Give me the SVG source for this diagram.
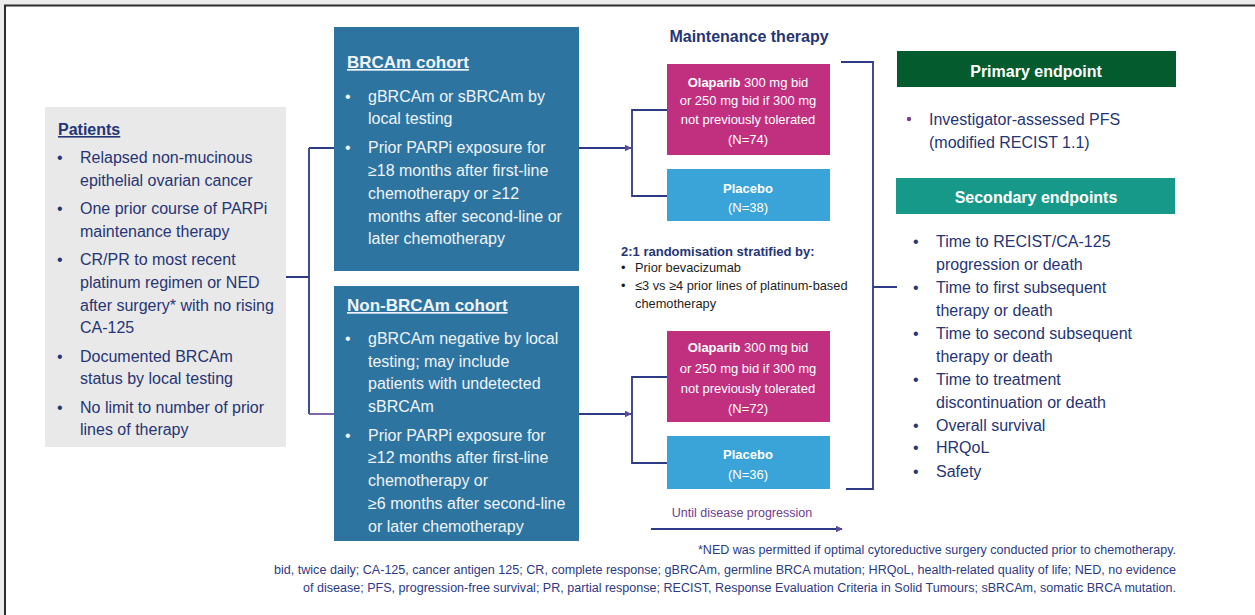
<svg xmlns="http://www.w3.org/2000/svg" width="1255" height="615" viewBox="0 0 1255 615">
  <defs>
    <style>
      text { font-family: "Liberation Sans", Arial, sans-serif; }
      .navy { fill: #263574; }
      .body { font-size: 16px; }
      .hdr { font-size: 16px; font-weight: bold; }
      .ul { text-decoration: underline; }
      .light { fill: #eef4f9; }
      .arm { font-size: 13px; fill: #ffffff; }
      .armb { font-weight: bold; }
      .wire { fill: none; stroke: #2d3a84; stroke-width: 1.8; }
      .foot { font-size: 12.5px; fill: #2d3a84; }
      .strat { font-size: 12.8px; fill: #1e1e1e; }
    </style>
    <marker id="arr" viewBox="0 0 10 10" refX="9" refY="5" markerWidth="7" markerHeight="7" markerUnits="userSpaceOnUse" orient="auto">
      <path d="M0,0 L10,5 L0,10 z" fill="#5a4a9c"/>
    </marker>
  </defs>

  <!-- page frame -->
  <rect x="0" y="0" width="1255" height="615" fill="#ececec"/>
  <rect x="5" y="5" width="1255" height="615" fill="#ffffff"/>
  <path d="M5,615 V5.5 H1255" fill="none" stroke="#2b2b2b" stroke-width="2"/>

  <!-- connectors -->
  <g id="connectors">
    <path class="wire" d="M286,277 H309 M309,148 V414 M309,148 H334"/>
    <path d="M309,414 H334" fill="none" stroke="#74559f" stroke-width="1.8"/>
    <path class="wire" d="M579,148 H631" marker-end="url(#arr)"/>
    <path class="wire" d="M667,110 H632 V196 H667"/>
    <path class="wire" d="M579,414 H631" marker-end="url(#arr)"/>
    <path class="wire" d="M667,377 H632 V463 H667"/>
    <path class="wire" d="M841,62 H873 V489 H846 M873,287 H897"/>
    <path class="wire" d="M651,529 H842" marker-end="url(#arr)"/>
  </g>

  <!-- patients -->
  <g id="patients">
    <rect x="45" y="107" width="241" height="340" fill="#e9e9e9"/>
    <text class="navy hdr ul" x="58" y="135">Patients</text>
    <g class="navy body">
      <text x="57" y="163">•</text>
      <text x="80" y="163">Relapsed non-mucinous</text>
      <text x="80" y="186">epithelial ovarian cancer</text>
      <text x="57" y="214">•</text>
      <text x="80" y="214">One prior course of PARPi</text>
      <text x="80" y="237">maintenance therapy</text>
      <text x="57" y="265">•</text>
      <text x="80" y="265">CR/PR to most recent</text>
      <text x="80" y="288">platinum regimen or NED</text>
      <text x="80" y="311">after surgery* with no rising</text>
      <text x="80" y="333">CA-125</text>
      <text x="57" y="362">•</text>
      <text x="80" y="362">Documented BRCAm</text>
      <text x="80" y="384">status by local testing</text>
      <text x="57" y="413">•</text>
      <text x="80" y="413">No limit to number of prior</text>
      <text x="80" y="435">lines of therapy</text>
    </g>
  </g>

  <!-- BRCAm cohort -->
  <g id="brcam-cohort">
    <rect x="334" y="27" width="245" height="244" fill="#2e74a0"/>
    <text class="light ul" x="347" y="68" font-size="17" font-weight="bold">BRCAm cohort</text>
    <g class="light body">
      <text x="345" y="102">•</text>
      <text x="368" y="102">gBRCAm or sBRCAm by</text>
      <text x="368" y="124">local testing</text>
      <text x="345" y="153">•</text>
      <text x="368" y="153">Prior PARPi exposure for</text>
      <text x="368" y="176">≥18 months after first-line</text>
      <text x="368" y="199">chemotherapy or ≥12</text>
      <text x="368" y="222">months after second-line or</text>
      <text x="368" y="244">later chemotherapy</text>
    </g>
  </g>

  <!-- Non-BRCAm cohort -->
  <g id="non-brcam-cohort">
    <rect x="334" y="286" width="245" height="255" fill="#2e74a0"/>
    <text class="light ul" x="347" y="311" font-size="17" font-weight="bold">Non-BRCAm cohort</text>
    <g class="light body">
      <text x="345" y="344">•</text>
      <text x="368" y="344">gBRCAm negative by local</text>
      <text x="368" y="367">testing; may include</text>
      <text x="368" y="389">patients with undetected</text>
      <text x="368" y="412">sBRCAm</text>
      <text x="345" y="441">•</text>
      <text x="368" y="441">Prior PARPi exposure for</text>
      <text x="368" y="463">≥12 months after first-line</text>
      <text x="368" y="486">chemotherapy or</text>
      <text x="368" y="509">≥6 months after second-line</text>
      <text x="368" y="532">or later chemotherapy</text>
    </g>
  </g>

  <!-- maintenance therapy arms -->
  <g id="maintenance-title">
    <text class="navy hdr" x="749" y="42" text-anchor="middle">Maintenance therapy</text>
  </g>

  <g id="olaparib-brcam">
    <rect x="667" y="64" width="163" height="91" fill="#c1307f"/>
    <g class="arm" text-anchor="middle">
      <text x="748" y="87"><tspan class="armb">Olaparib</tspan> 300 mg bid</text>
      <text x="748" y="105">or 250 mg bid if 300 mg</text>
      <text x="748" y="124">not previously tolerated</text>
      <text x="748" y="144">(N=74)</text>
    </g>
  </g>

  <g id="placebo-brcam">
    <rect x="667" y="169" width="163" height="52" fill="#3aa4d9"/>
    <g class="arm" text-anchor="middle">
      <text class="armb" x="748" y="193">Placebo</text>
      <text x="748" y="212">(N=38)</text>
    </g>
  </g>

  <g id="randomisation">
    <text class="navy" x="621" y="256" font-size="13" font-weight="bold">2:1 randomisation stratified by:</text>
    <g class="strat">
      <text x="621" y="272">•</text>
      <text x="635" y="272">Prior bevacizumab</text>
      <text x="621" y="290">•</text>
      <text x="635" y="290">≤3 vs ≥4 prior lines of platinum-based</text>
      <text x="635" y="308">chemotherapy</text>
    </g>
  </g>

  <g id="olaparib-non-brcam">
    <rect x="667" y="331" width="163" height="91" fill="#c1307f"/>
    <g class="arm" text-anchor="middle">
      <text x="748" y="352"><tspan class="armb">Olaparib</tspan> 300 mg bid</text>
      <text x="748" y="373">or 250 mg bid if 300 mg</text>
      <text x="748" y="393">not previously tolerated</text>
      <text x="748" y="413">(N=72)</text>
    </g>
  </g>

  <g id="placebo-non-brcam">
    <rect x="667" y="436" width="163" height="53" fill="#3aa4d9"/>
    <g class="arm" text-anchor="middle">
      <text class="armb" x="748" y="459">Placebo</text>
      <text x="748" y="479">(N=36)</text>
    </g>
  </g>

  <g id="duration">
    <text x="742" y="517" font-size="12.5" fill="#6c3d91" text-anchor="middle">Until disease progression</text>
  </g>

  <!-- endpoints -->
  <g id="primary-endpoint">
    <rect x="897" y="51" width="279" height="36" fill="#045b2e"/>
    <text class="hdr" x="1036" y="77" fill="#ffffff" text-anchor="middle">Primary endpoint</text>
    <circle cx="909" cy="119" r="2.2" fill="#7a3d8f"/>
    <g class="navy body">
      <text x="929" y="125">Investigator-assessed PFS</text>
      <text x="929" y="148">(modified RECIST 1.1)</text>
    </g>
  </g>

  <g id="secondary-endpoints">
    <rect x="896" y="178" width="279" height="36" fill="#17998a"/>
    <text class="hdr" x="1036" y="203" fill="#ffffff" text-anchor="middle">Secondary endpoints</text>
    <g class="navy body">
      <text x="913" y="247">•</text>
      <text x="936" y="247">Time to RECIST/CA-125</text>
      <text x="936" y="270">progression or death</text>
      <text x="913" y="293">•</text>
      <text x="936" y="293">Time to first subsequent</text>
      <text x="936" y="316">therapy or death</text>
      <text x="913" y="339">•</text>
      <text x="936" y="339">Time to second subsequent</text>
      <text x="936" y="362">therapy or death</text>
      <text x="913" y="385">•</text>
      <text x="936" y="385">Time to treatment</text>
      <text x="936" y="408">discontinuation or death</text>
      <text x="913" y="431">•</text>
      <text x="936" y="431">Overall survival</text>
      <text x="913" y="453">•</text>
      <text x="936" y="453">HRQoL</text>
      <text x="913" y="477">•</text>
      <text x="936" y="477">Safety</text>
    </g>
  </g>

  <!-- footnotes -->
  <g id="footnotes" class="foot" text-anchor="end">
    <text x="1176" y="554" textLength="478" lengthAdjust="spacingAndGlyphs">*NED was permitted if optimal cytoreductive surgery conducted prior to chemotherapy.</text>
    <text x="1176" y="574" textLength="902" lengthAdjust="spacingAndGlyphs">bid, twice daily; CA-125, cancer antigen 125; CR, complete response; gBRCAm, germline BRCA mutation; HRQoL, health-related quality of life; NED, no evidence</text>
    <text x="1176" y="592" textLength="873" lengthAdjust="spacingAndGlyphs">of disease; PFS, progression-free survival; PR, partial response; RECIST, Response Evaluation Criteria in Solid Tumours; sBRCAm, somatic BRCA mutation.</text>
  </g>
</svg>
